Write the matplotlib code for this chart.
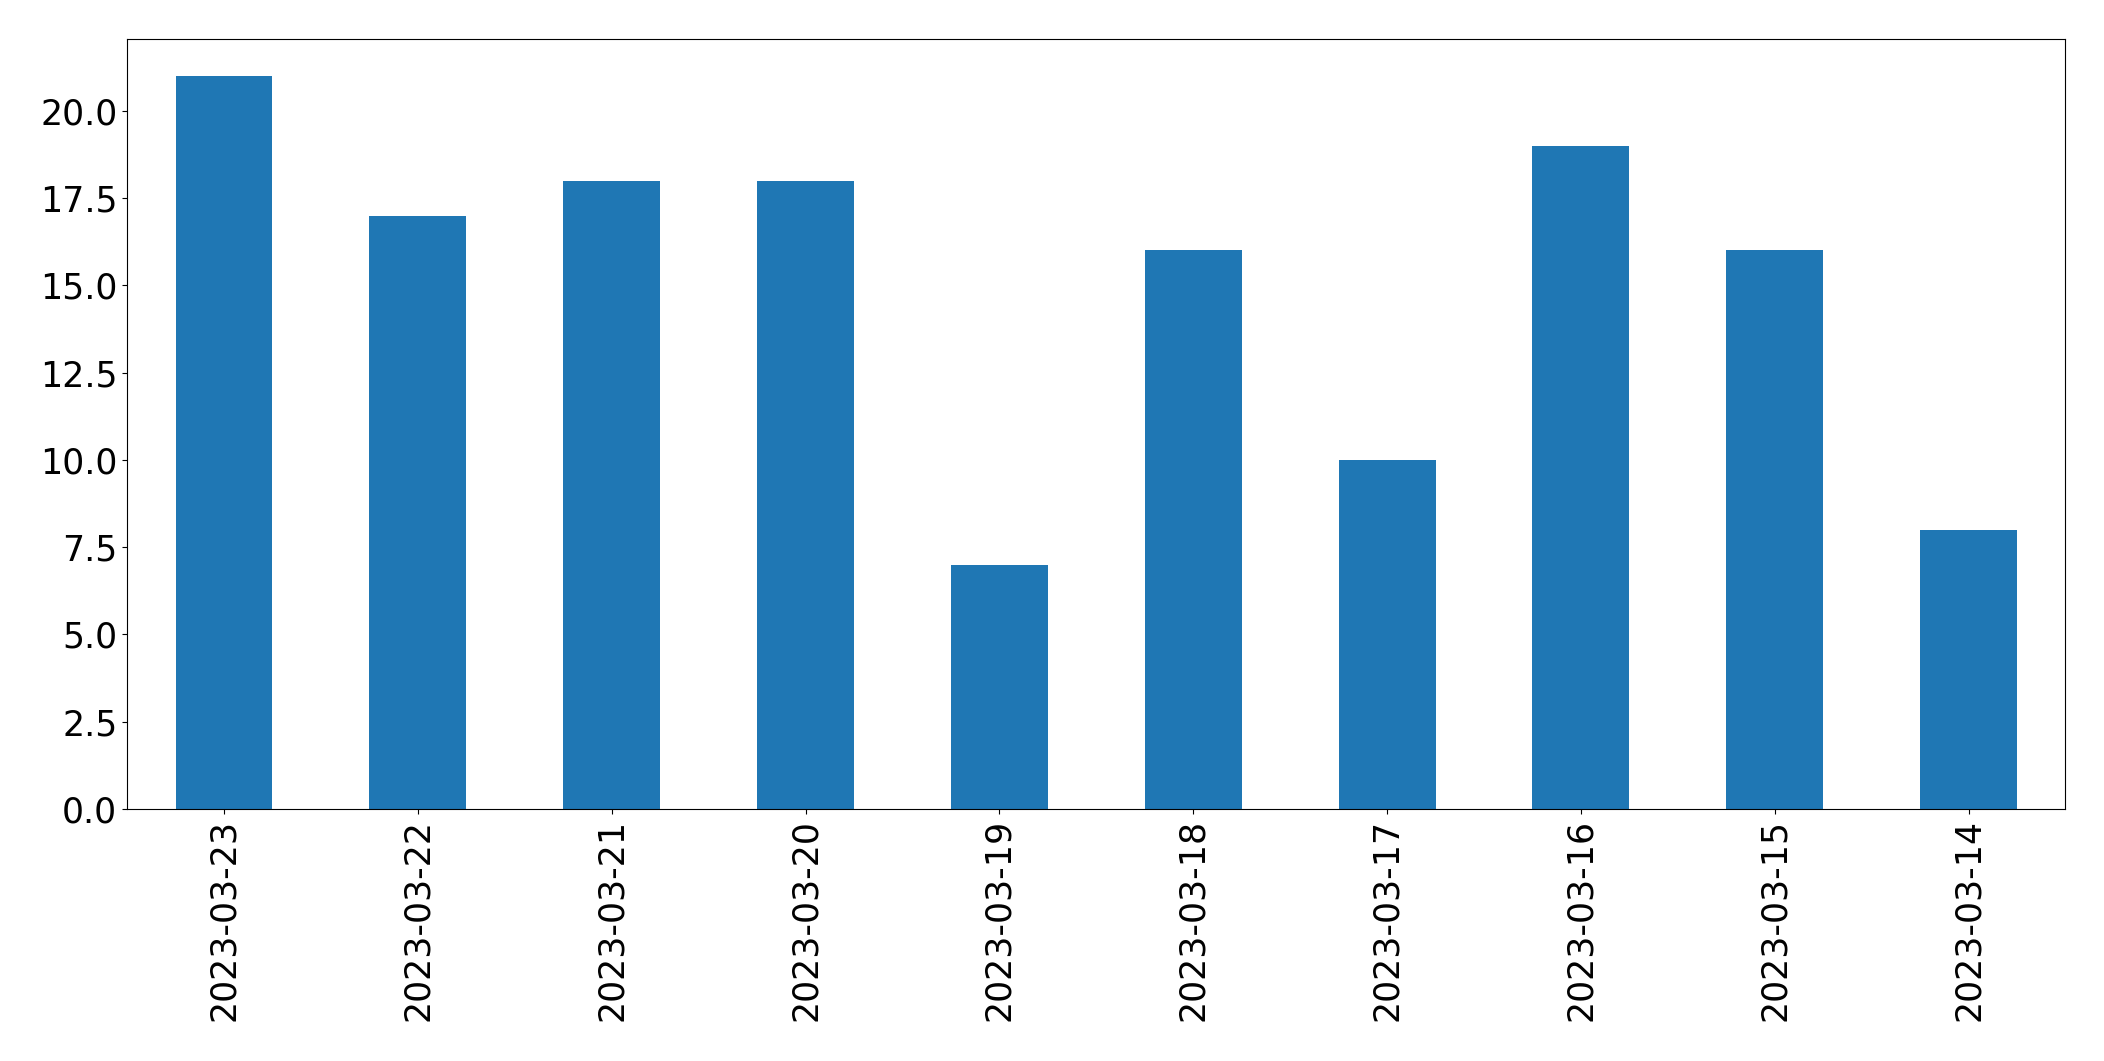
import pandas as pd
from matplotlib import pyplot as plt

dates = ['2023-03-23', '2023-03-22', '2023-03-21', '2023-03-20', '2023-03-19',
         '2023-03-18', '2023-03-17', '2023-03-16', '2023-03-15', '2023-03-14']
counts = [21, 17, 18, 18, 7, 16, 10, 19, 16, 8]

s = pd.Series(counts, index=dates)

fig, ax = plt.subplots(figsize=(21.04, 10.61), dpi=100)
s.plot.bar(ax=ax, color='#1f77b4', fontsize=25)
ax.set_xlabel('')

fig.subplots_adjust(left=0.0604, right=0.9817, bottom=0.2375, top=0.963)
fig.savefig('out.png', dpi=100)
